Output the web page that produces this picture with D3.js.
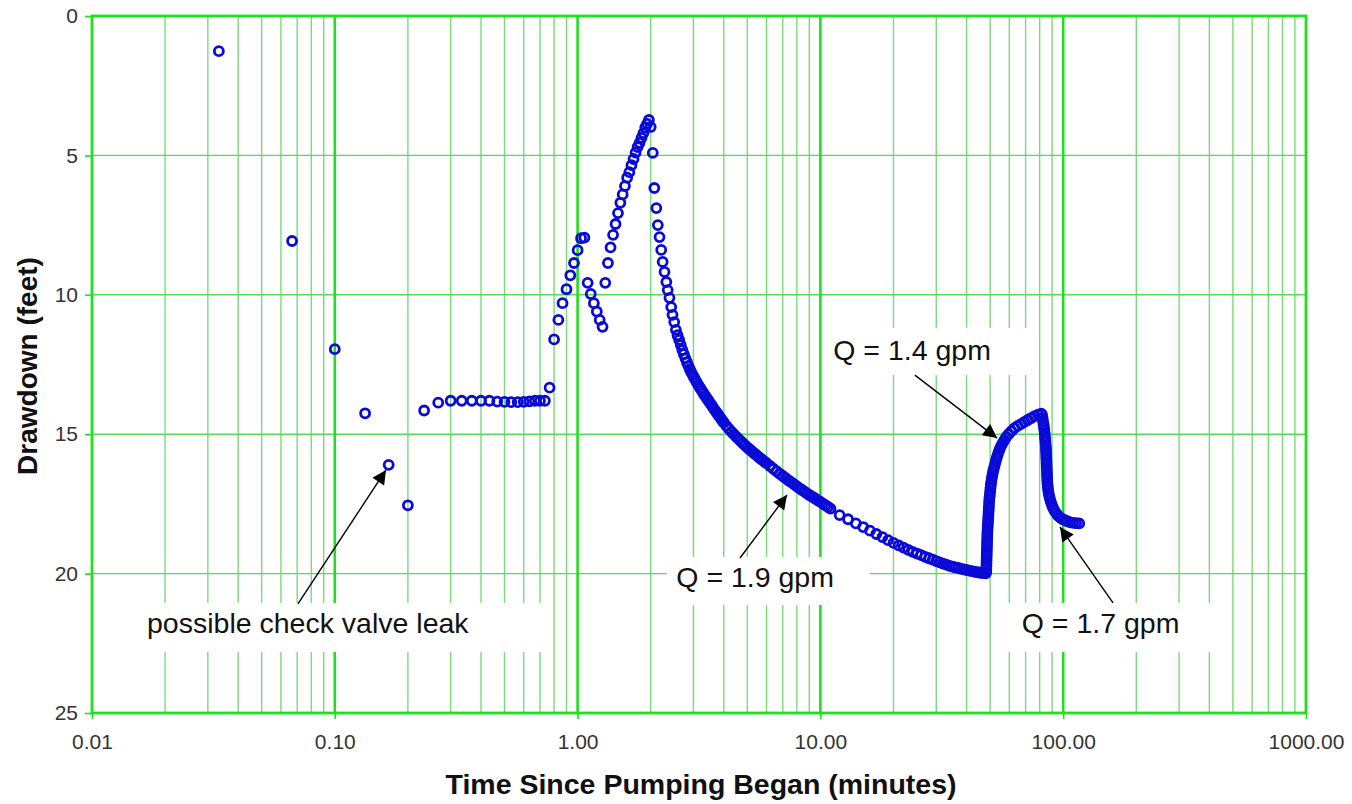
<!DOCTYPE html>
<html>
<head>
<meta charset="utf-8">
<script src="https://cdn.jsdelivr.net/npm/d3@7"></script>
<style>
  html, body { margin: 0; padding: 0; background: #fff; }
  svg { display: block; font-family: "Liberation Sans", Arial, sans-serif; }
</style>
</head>
<body>
<svg id="chart" width="1352" height="804"></svg>
<script>
// Pumping test record: elapsed time (minutes) and drawdown (feet)
const timeMin = [
  0.0333, 0.0667, 0.1, 0.1333, 0.1667, 0.2, 0.2333, 0.2667, 0.3, 0.3333,
  0.3667, 0.4, 0.4333, 0.4667, 0.5, 0.5333, 0.5667, 0.6, 0.6333, 0.6667,
  0.7, 0.7333, 0.7667, 0.8, 0.8333, 0.8667, 0.9, 0.9333, 0.9667, 1.0,
  1.0333, 1.0667, 1.1, 1.1333, 1.1667, 1.2, 1.2333, 1.2667, 1.3, 1.3333,
  1.3667, 1.4, 1.4333, 1.4667, 1.5, 1.5333, 1.5667, 1.6, 1.6333, 1.6667,
  1.7, 1.7333, 1.7667, 1.8, 1.8333, 1.8667, 1.9, 1.9333, 1.9667,
  2.0, 2.04, 2.07, 2.11, 2.14, 2.175, 2.21, 2.24, 2.28, 2.32, 2.35, 2.39, 2.43, 2.46, 2.5,
  2.54, 2.58, 2.62, 2.66, 2.7, 2.74, 2.78, 2.82, 2.86, 2.9, 2.94, 2.98,
  3.02, 3.06, 3.1, 3.15, 3.2, 3.25, 3.3, 3.35, 3.4, 3.45, 3.5, 3.55, 3.6, 3.65, 3.7, 3.75,
  3.8, 3.85, 3.9, 3.95, 4.0,
  4.1, 4.2, 4.3, 4.4, 4.5, 4.6, 4.7, 4.8, 4.9, 5.0, 5.1, 5.2, 5.3, 5.4, 5.5, 5.6, 5.7, 5.8, 5.9, 6.0,
  6.2, 6.4, 6.6, 6.8, 7.0, 7.2, 7.4, 7.6, 7.8, 8.0, 8.2, 8.4, 8.6, 8.8, 9.0, 9.2, 9.4, 9.6, 9.8, 10.0,
  10.25, 10.5, 10.75, 11.0,
  12, 13, 14, 15, 16, 17, 18, 19, 20, 21, 22, 23, 24, 25, 26, 27, 28, 29, 30,
  31, 32, 33, 34, 35, 36, 37, 38, 39, 40, 41, 42, 43, 44, 45, 46, 47, 48,
  48.2, 48.24, 48.28, 48.32, 48.36, 48.4, 48.44, 48.48, 48.52, 48.56, 48.6, 48.64, 48.68, 48.72,
  48.8, 48.88, 48.96, 49.04, 49.12, 49.2, 49.28, 49.36, 49.44, 49.52, 49.6, 49.75, 49.9, 50.05,
  50.2, 50.35, 50.5, 50.75, 51.0, 51.3, 51.6, 52.0, 52.4, 52.8, 53.2, 53.7, 54.2, 54.8, 55.5,
  56.3, 57.2, 58.3, 59.6, 61.2, 63.0, 65.0, 67.2, 69.3, 71.5, 73.8, 76.2, 78.8, 81.2,
  81.8, 82.2, 82.6, 83.0, 83.3, 83.6, 83.9, 84.1, 84.3, 84.5, 84.7, 84.9, 85.0, 85.1, 85.2,
  85.3, 85.4, 85.5, 85.6, 85.7, 85.8, 85.9, 86.0, 86.2, 86.4, 86.7, 87.1, 87.6, 88.2, 88.9,
  89.8, 90.8, 92.0, 93.5, 95.2, 97.2, 99.5, 102, 104.5, 107, 110, 113, 116.4
];
const drawdownFt = [
  1.26, 8.07, 11.95, 14.25, 16.1, 17.55, 14.15, 13.87, 13.8, 13.8,
  13.8, 13.8, 13.8, 13.83, 13.84, 13.85, 13.85, 13.84, 13.82, 13.8,
  13.8, 13.8, 13.33, 11.6, 10.9, 10.3, 9.8, 9.3, 8.86, 8.4,
  7.97, 7.95, 9.57, 9.97, 10.3, 10.6, 10.9, 11.15, 9.57, 8.86,
  8.3, 7.85, 7.46, 7.07, 6.7, 6.4, 6.1, 5.8, 5.6, 5.35,
  5.13, 4.9, 4.7, 4.55, 4.37, 4.2, 4.0, 3.87, 3.73,
  3.98, 4.91, 6.17, 6.89, 7.5, 7.93, 8.39, 8.82, 9.18, 9.54, 9.83, 10.11, 10.44, 10.72, 10.98,
  11.26, 11.45, 11.62, 11.8, 11.98, 12.13, 12.28, 12.42, 12.55, 12.67, 12.78, 12.88,
  12.97, 13.06, 13.15, 13.25, 13.35, 13.44, 13.53, 13.62, 13.7, 13.78, 13.86, 13.94, 14.02, 14.1, 14.17, 14.24,
  14.31, 14.38, 14.45, 14.52, 14.58,
  14.7, 14.81, 14.91, 15.0, 15.09, 15.17, 15.25, 15.33, 15.4, 15.47, 15.54, 15.6, 15.66, 15.72, 15.78, 15.84, 15.89, 15.94, 15.99, 16.04,
  16.14, 16.24, 16.33, 16.42, 16.5, 16.58, 16.66, 16.73, 16.8, 16.87, 16.94, 17.0, 17.06, 17.12, 17.18, 17.23, 17.28, 17.33, 17.38, 17.43,
  17.49, 17.55, 17.61, 17.67,
  17.9, 18.05, 18.2, 18.33, 18.46, 18.58, 18.69, 18.8, 18.9, 18.99, 19.07, 19.15, 19.22, 19.28, 19.34, 19.4, 19.45, 19.5, 19.55,
  19.6, 19.64, 19.68, 19.72, 19.75, 19.78, 19.8, 19.83, 19.85, 19.87, 19.89, 19.91, 19.93, 19.95, 19.96, 19.97, 19.98, 19.99,
  19.94, 19.83, 19.73, 19.62, 19.51, 19.4, 19.3, 19.19, 19.08, 18.97, 18.87, 18.76, 18.65, 18.54,
  18.44, 18.33, 18.22, 18.11, 18.01, 17.9, 17.79, 17.68, 17.58, 17.47, 17.36, 17.25, 17.15, 17.04,
  16.93, 16.82, 16.72, 16.61, 16.5, 16.39, 16.28, 16.18, 16.07, 15.96, 15.85, 15.75, 15.64, 15.53, 15.42,
  15.32, 15.21, 15.1, 15.0, 14.89, 14.78, 14.7, 14.63, 14.56, 14.49, 14.42, 14.35, 14.3, 14.26,
  14.3, 14.42, 14.53, 14.64, 14.74, 14.85, 14.96, 15.07, 15.17, 15.28, 15.39, 15.5, 15.6, 15.71, 15.82,
  15.92, 16.03, 16.14, 16.25, 16.36, 16.46, 16.57, 16.68, 16.79, 16.89, 17.0, 17.11, 17.22, 17.32, 17.43,
  17.54, 17.64, 17.74, 17.83, 17.92, 17.99, 18.05, 18.09, 18.13, 18.16, 18.18, 18.19, 18.2
];

// Axis tick values and labels
const yTicks = [0, 5, 10, 15, 20, 25];
const xDecades = [0.01, 0.1, 1, 10, 100, 1000];
const xTickLabels = ["0.01", "0.10", "1.00", "10.00", "100.00", "1000.00"];

// Callout labels (text start, white backing box, arrow tail and head), in data units
const noteTexts = ["possible check valve leak", "Q = 1.9 gpm", "Q = 1.4 gpm", "Q = 1.7 gpm"];
const noteTextAt = [[0.01685, 22.13], [2.55, 20.48], [11.3, 12.34], [67.5, 22.13]];
const noteBoxes = [[0.01407, 0.734, 21.05, 22.81], [2.334, 16.0, 19.4, 21.13], [10.55, 75.1, 11.19, 12.88], [57.6, 463.8, 21.05, 22.81]];
const noteArrowTail = [[0.0705, 21.09], [4.667, 19.44], [24.5, 12.88], [160.4, 21.05]];
const noteArrowHead = [[0.1625, 16.28], [7.285, 17.18], [53.4, 15.14], [97.0, 18.33]];

const svg = d3.select("#chart");
const plotLeft = 92, plotRight = 1306, plotTop = 16, plotBottom = 713;

const x = d3.scaleLog().domain([0.01, 1000]).range([plotLeft, plotRight]);
const y = d3.scaleLinear().domain([0, 25]).range([plotTop, plotBottom]);

const majorGreen = "#1fe01f";
const minorGreen = "#7ada7a";

// minor vertical gridlines (2..9 within each decade)
const allTicks = x.ticks();
const minorTicks = allTicks.filter(v => !xDecades.some(d => Math.abs(d - v) / d < 1e-6));
svg.append("g").selectAll("line").data(minorTicks).join("line")
  .attr("x1", d => x(d)).attr("x2", d => x(d))
  .attr("y1", plotTop).attr("y2", plotBottom)
  .attr("stroke", minorGreen).attr("stroke-width", 1.4);

// horizontal gridlines
svg.append("g").selectAll("line").data(yTicks.slice(1, -1)).join("line")
  .attr("x1", plotLeft).attr("x2", plotRight)
  .attr("y1", d => y(d)).attr("y2", d => y(d))
  .attr("stroke", "#4fdf4f").attr("stroke-width", 1.4);

// major (decade) gridlines
svg.append("g").selectAll("line").data(xDecades.slice(1, -1)).join("line")
  .attr("x1", d => x(d)).attr("x2", d => x(d))
  .attr("y1", plotTop).attr("y2", plotBottom)
  .attr("stroke", majorGreen).attr("stroke-width", 2.6);

// white backing boxes behind the callouts
svg.append("g").selectAll("rect").data(noteBoxes).join("rect")
  .attr("x", d => x(d[0])).attr("width", d => x(d[1]) - x(d[0]))
  .attr("y", d => y(d[2])).attr("height", d => y(d[3]) - y(d[2]))
  .attr("fill", "#fff");

// plot border
svg.append("rect")
  .attr("x", plotLeft).attr("y", plotTop)
  .attr("width", plotRight - plotLeft).attr("height", plotBottom - plotTop)
  .attr("fill", "none").attr("stroke", majorGreen).attr("stroke-width", 2.8);

// axes ticks and labels
const yAxis = d3.axisLeft(y).tickValues(yTicks).tickSize(7).tickPadding(7).tickFormat(d3.format("d"));
const gy = svg.append("g").attr("transform", `translate(${plotLeft},0)`).call(yAxis);
const xAxis = d3.axisBottom(x).tickValues(xDecades).tickSize(6).tickPadding(15)
  .tickFormat((d, i) => xTickLabels[i]);
const gx = svg.append("g").attr("transform", `translate(0,${plotBottom})`).call(xAxis);
[gx, gy].forEach(g => {
  g.select(".domain").remove();
  g.selectAll(".tick line").attr("stroke", majorGreen).attr("stroke-width", 1.6);
  g.selectAll(".tick text").attr("fill", "#333").style("font-size", "21px")
    .style("font-family", '"Liberation Sans", Arial, sans-serif');
});

// axis titles
svg.append("text")
  .attr("x", 701).attr("y", 794).attr("text-anchor", "middle")
  .style("font-size", "28.5px").style("font-weight", "bold").attr("fill", "#111")
  .text("Time Since Pumping Began (minutes)");
svg.append("text")
  .attr("transform", "translate(37,366) rotate(-90)").attr("text-anchor", "middle")
  .style("font-size", "28px").style("font-weight", "bold").attr("fill", "#111")
  .text("Drawdown (feet)");

// data markers
const pts = timeMin.map((t, i) => [t, drawdownFt[i]]);
svg.append("g").selectAll("circle").data(pts).join("circle")
  .attr("cx", d => x(d[0])).attr("cy", d => y(d[1])).attr("r", 4.5)
  .attr("fill", "none").attr("stroke", "#0a0ad8").attr("stroke-width", 2.8);

// arrow heads
svg.append("defs").append("marker")
  .attr("id", "head").attr("viewBox", "0 0 10 10")
  .attr("refX", 10).attr("refY", 5)
  .attr("markerUnits", "userSpaceOnUse").attr("markerWidth", 20).attr("markerHeight", 14)
  .attr("orient", "auto")
  .append("path").attr("d", "M0,0 L10,5 L0,10 Z").attr("fill", "#000");

svg.append("g").selectAll("line").data(noteArrowTail).join("line")
  .attr("x1", d => x(d[0])).attr("y1", d => y(d[1]))
  .attr("x2", (d, i) => x(noteArrowHead[i][0])).attr("y2", (d, i) => y(noteArrowHead[i][1]))
  .attr("stroke", "#000").attr("stroke-width", 1.4)
  .attr("marker-end", "url(#head)");

// callout texts
svg.append("g").selectAll("text").data(noteTexts).join("text")
  .attr("x", (d, i) => x(noteTextAt[i][0])).attr("y", (d, i) => y(noteTextAt[i][1]))
  .style("font-size", "28.5px").attr("fill", "#111")
  .text(d => d);
</script>
</body>
</html>
